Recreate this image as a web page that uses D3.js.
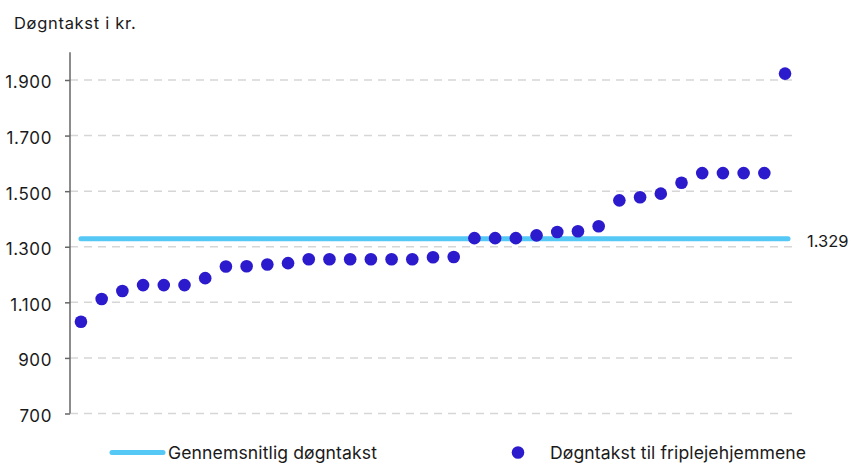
<!DOCTYPE html>
<html><head><meta charset="utf-8">
<script src="https://cdn.jsdelivr.net/npm/d3@7"></script>
<style>body{margin:0;background:#fff;} svg{display:block;font-family:Inter,"Liberation Sans",Arial,sans-serif;}</style>
</head><body><svg id="c" width="851" height="463"></svg>
<script>
const homes = d3.range(1, 36).map(i => "Hjem " + i);
const rates = [1030,1112,1141,1162,1162,1162,1187,1229,1230,1236,1241,1255,1255,1255,1255,1255,1255,1262,1263,1331,1331,1331,1341,1353,1356,1374,1467,1478,1491,1530,1565,1565,1565,1565,1923];
const meanRate = 1329;
const yTicks = [700,900,1100,1300,1500,1700,1900];
const yLabel = "Døgntakst i kr.";
const legendLabels = ["Gennemsnitlig døgntakst","Døgntakst til friplejehjemmene"];

const FONT = "Inter, Liberation Sans, Arial, sans-serif";
const svg = d3.select("#c");
const loc = d3.formatLocale({decimal:",", thousands:".", grouping:[3], currency:["","kr."]});
const fmt = loc.format(",d");
const x = d3.scaleBand().domain(homes).range([70.6,795.4]);
const y = d3.scaleLinear().domain([700,2000]).range([413.5,52.2]);

// gridlines
svg.append("g").selectAll("line").data(yTicks).join("line")
  .attr("x1",70).attr("x2",793).attr("y1",d=>y(d)).attr("y2",d=>y(d))
  .attr("stroke","#d6d6d6").attr("stroke-width",1.5).attr("stroke-dasharray","8,6");

const ax = svg.append("g").attr("transform","translate(70,0)")
  .call(d3.axisLeft(y).tickValues(yTicks).tickFormat(fmt).tickSize(5).tickPadding(13));
ax.select(".domain").attr("stroke","#666").attr("stroke-width",1.5).attr("d",`M0,${y(2000)}V${y(700)}`);
ax.selectAll(".tick line").attr("stroke","#666").attr("stroke-width",1.5);
ax.selectAll(".tick text").attr("font-size",17).attr("fill","#1a1a1a").attr("letter-spacing","0.6")
  .attr("font-family",FONT).attr("dy","0.47em");

svg.append("text").attr("x",14).attr("y",29.3).attr("font-size",16.5).attr("letter-spacing","0.7")
  .attr("fill","#1a1a1a").text(yLabel);

// mean line
svg.append("line").attr("x1",x(homes[0])+x.bandwidth()/2).attr("x2",x(homes[homes.length-1])+x.bandwidth()/2+3)
  .attr("y1",y(meanRate)).attr("y2",y(meanRate))
  .attr("stroke","#55c8f5").attr("stroke-width",5).attr("stroke-linecap","round");
svg.append("text").attr("x",807).attr("y",246.7).attr("letter-spacing","0")
  .attr("font-size",16.5).attr("fill","#1a1a1a").text(fmt(meanRate));

// dots
svg.append("g").selectAll("circle").data(rates).join("circle")
  .attr("cx",(d,i)=>x(homes[i])+x.bandwidth()/2).attr("cy",d=>y(d)).attr("r",6.3)
  .attr("fill","#2b1bcc");

// legend
const lg = svg.append("g");
lg.append("line").attr("x1",112).attr("x2",163).attr("y1",452.5).attr("y2",452.5)
  .attr("stroke","#55c8f5").attr("stroke-width",5).attr("stroke-linecap","round");
lg.append("text").attr("x",168).attr("y",458.5).attr("font-size",17.6).attr("letter-spacing","0.1").attr("fill","#1a1a1a").text(legendLabels[0]);
lg.append("circle").attr("cx",518).attr("cy",452.5).attr("r",6.3).attr("fill","#2b1bcc");
lg.append("text").attr("x",550).attr("y",458.5).attr("font-size",17.6).attr("letter-spacing","0.1").attr("fill","#1a1a1a").text(legendLabels[1]);
</script></body></html>
